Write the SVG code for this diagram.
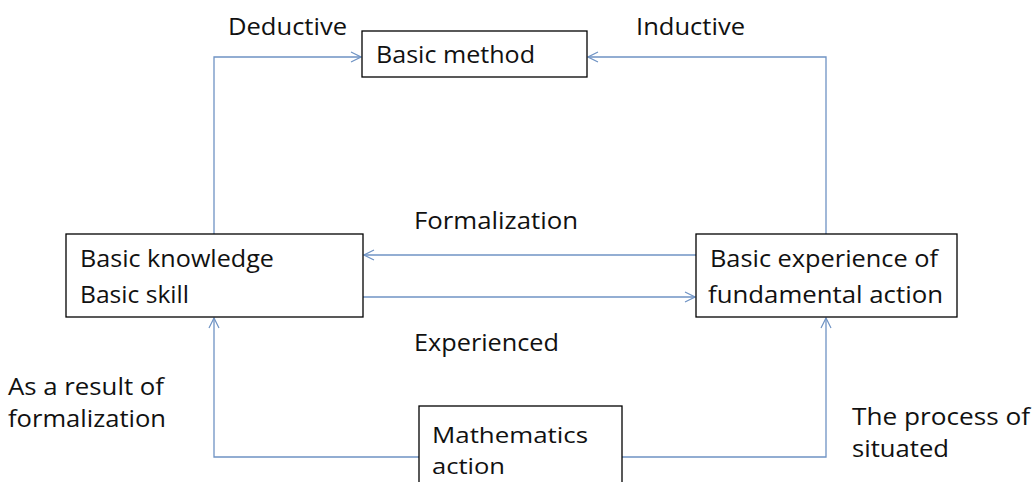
<svg xmlns="http://www.w3.org/2000/svg" width="1034" height="482" viewBox="0 0 1034 482">
<style>
.box{fill:#fff;stroke:#000;stroke-width:1.3}
.t{font-family:"Open Sans","Liberation Sans",sans-serif;font-size:23px;fill:#111}
.s{font-size:22.5px}
.c{fill:none;stroke:#6f93c4;stroke-width:1.3}
</style>
<defs>
<marker id="a" viewBox="0 0 12 12" refX="11" refY="6" markerWidth="12" markerHeight="12" markerUnits="userSpaceOnUse" orient="auto">
<path d="M1,1 L11,6 L1,11" fill="none" stroke="#6f93c4" stroke-width="1.2"/>
</marker>
</defs>
<rect width="1034" height="482" fill="#fff"/>
<g id="connectors">
<path class="c" d="M214,234 V57 H361" marker-end="url(#a)"/>
<path class="c" d="M826,234 V57 H588" marker-end="url(#a)"/>
<path class="c" d="M696,255 H364" marker-end="url(#a)"/>
<path class="c" d="M363,297 H695" marker-end="url(#a)"/>
<path class="c" d="M419,457 H214 V318" marker-end="url(#a)"/>
<path class="c" d="M622,457 H826 V318" marker-end="url(#a)"/>
</g>
<g id="labels">
<text class="t" x="228" y="35" textLength="119" lengthAdjust="spacingAndGlyphs">Deductive</text>
<text class="t" x="636" y="35" textLength="109" lengthAdjust="spacingAndGlyphs">Inductive</text>
<text class="t" x="414" y="229" textLength="164" lengthAdjust="spacingAndGlyphs">Formalization</text>
<text class="t" x="414" y="351" textLength="145" lengthAdjust="spacingAndGlyphs">Experienced</text>
<text class="t" x="8" y="395" textLength="156" lengthAdjust="spacingAndGlyphs">As a result of</text>
<text class="t" x="8" y="427" textLength="158" lengthAdjust="spacingAndGlyphs">formalization</text>
<text class="t" x="852" y="425" textLength="178" lengthAdjust="spacingAndGlyphs">The process of</text>
<text class="t" x="852" y="457" textLength="97" lengthAdjust="spacingAndGlyphs">situated</text>
</g>
<g id="basic-method">
<rect class="box" x="362" y="31" width="225" height="46"/>
<text class="t" x="376" y="63" textLength="159" lengthAdjust="spacingAndGlyphs">Basic method</text>
</g>
<g id="basic-knowledge">
<rect class="box" x="66" y="234" width="297" height="83"/>
<text class="t" x="80" y="267" textLength="194" lengthAdjust="spacingAndGlyphs">Basic knowledge</text>
<text class="t" x="80" y="303" textLength="109" lengthAdjust="spacingAndGlyphs">Basic skill</text>
</g>
<g id="basic-experience">
<rect class="box" x="696" y="234" width="261" height="83"/>
<text class="t" x="710" y="267" textLength="228" lengthAdjust="spacingAndGlyphs">Basic experience of</text>
<text class="t" x="708" y="303" textLength="235" lengthAdjust="spacingAndGlyphs">fundamental action</text>
</g>
<g id="mathematics-action">
<rect class="box" x="419" y="406" width="203" height="90"/>
<text class="t s" x="432" y="443" textLength="156" lengthAdjust="spacingAndGlyphs">Mathematics</text>
<text class="t s" x="432" y="474" textLength="73" lengthAdjust="spacingAndGlyphs">action</text>
</g>
</svg>
